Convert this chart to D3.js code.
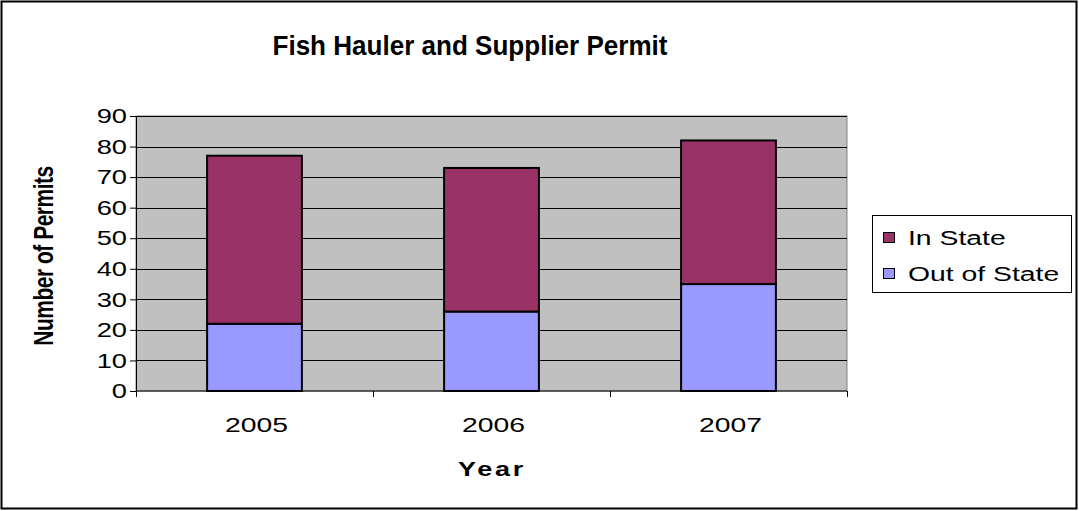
<html>
<head>
<script src="https://d3js.org/d3.v7.min.js"></script>
<style>
  body { margin: 0; background: #fff; }
  text { font-family: "Liberation Sans", Arial, sans-serif; fill: #000; }
</style>
</head>
<body>
<svg width="1079" height="511"></svg>
<script>
var years = ["2005", "2006", "2007"];
var outOfState = [22, 26, 35];
var inState = [55, 47, 47];
var seriesNames = ["In State", "Out of State"];
var yTicks = [0, 10, 20, 30, 40, 50, 60, 70, 80, 90];

var svg = d3.select("svg");
var pLeft = 136, pRight = 847, pTop = 116, pBottom = 391;
var sx = 1.35; // the original chart is stretched sideways

// outer frame
svg.append("rect").attr("x", 1.5).attr("y", 1.5).attr("width", 1075).attr("height", 507)
   .attr("fill", "#fff").attr("stroke", "#000").attr("stroke-width", 2);

var x = d3.scaleBand().domain(years).range([pLeft, pRight]).paddingInner(0.6).paddingOuter(0.3);
var y = d3.scaleLinear().domain([0, 90]).range([pBottom, pTop]);

// plot area
svg.append("rect").attr("x", pLeft).attr("y", pTop).attr("width", pRight - pLeft).attr("height", pBottom - pTop)
   .attr("fill", "#c0c0c0").attr("stroke", "#808080").attr("stroke-width", 1);

// gridlines
svg.append("g").selectAll("line").data(yTicks.slice(1)).enter().append("line")
   .attr("x1", pLeft).attr("x2", pRight)
   .attr("y1", function(d) { return Math.round(y(d)) + 0.5; })
   .attr("y2", function(d) { return Math.round(y(d)) + 0.5; })
   .attr("stroke", "#000").attr("stroke-width", 1);

// stacked bars
var rows = years.map(function(yr, i) { return { year: yr, "Out of State": outOfState[i], "In State": inState[i] }; });
var stack = d3.stack().keys(["Out of State", "In State"])(rows);
var colors = { "In State": "#993366", "Out of State": "#9999ff" };

svg.append("g").selectAll("g").data(stack).enter().append("g")
   .attr("fill", function(s) { return colors[s.key]; })
   .selectAll("rect").data(function(s) { return s; }).enter().append("rect")
   .attr("x", function(d) { return x(d.data.year); })
   .attr("y", function(d) { return y(d[1]); })
   .attr("width", x.bandwidth())
   .attr("height", function(d) { return y(d[0]) - y(d[1]); })
   .attr("stroke", "#000").attr("stroke-width", 2);

// y axis
var yAxis = svg.append("g").attr("transform", "translate(" + pLeft + ",0)")
   .call(d3.axisLeft(y).tickValues(yTicks).tickSize(6).tickPadding(0));
yAxis.select(".domain").attr("stroke", "#000");
yAxis.selectAll(".tick text").attr("font-size", 21).attr("fill", "#000")
   .attr("font-family", "Liberation Sans, Arial, sans-serif")
   .attr("x", null).attr("text-anchor", "end")
   .attr("transform", "translate(-9,0) scale(1.3,1)");

// x axis: ticks at category boundaries
var xg = svg.append("g").attr("transform", "translate(0," + pBottom + ")");
xg.append("line").attr("x1", pLeft).attr("x2", pRight).attr("stroke", "#000");
var step = x.step();
var bounds = [pLeft, pLeft + step, pLeft + 2 * step, pRight];
xg.selectAll("line.tk").data(bounds).enter().append("line").attr("class", "tk")
   .attr("x1", function(d) { return Math.round(d) + 0.5; })
   .attr("x2", function(d) { return Math.round(d) + 0.5; })
   .attr("y1", 0).attr("y2", 6).attr("stroke", "#000");
xg.selectAll("text").data(years).enter().append("text")
   .attr("transform", function(d) { return "translate(" + (x(d) + x.bandwidth() / 2 + 2) + ",41) scale(" + sx + ",1)"; })
   .attr("text-anchor", "middle").attr("font-size", 21)
   .text(function(d) { return d; });

// titles
svg.append("text").attr("transform", "translate(470,55) scale(0.965,1)").attr("text-anchor", "middle")
   .attr("font-size", 27).attr("font-weight", "bold").text("Fish Hauler and Supplier Permit");
svg.append("text").attr("transform", "translate(492,476) scale(" + sx + ",1)").attr("text-anchor", "middle")
   .attr("font-size", 20).attr("font-weight", "bold").attr("letter-spacing", 2).text("Year");
svg.append("text").attr("transform", "translate(53,256) rotate(-90) scale(1," + sx + ")").attr("text-anchor", "middle")
   .attr("font-size", 21).attr("font-weight", "bold").attr("letter-spacing", -0.5).text("Number of Permits");

// legend
var lg = svg.append("g");
lg.append("rect").attr("x", 872.5).attr("y", 215.5).attr("width", 199).attr("height", 77)
  .attr("fill", "#fff").attr("stroke", "#000");
seriesNames.forEach(function(n, i) {
  lg.append("rect").attr("x", 883.5).attr("y", 232.5 + i * 36).attr("width", 11).attr("height", 10)
    .attr("fill", colors[n]).attr("stroke", "#000");
  lg.append("text").attr("transform", "translate(908," + (245 + i * 36) + ") scale(" + sx + ",1)")
    .attr("font-size", 21).text(n);
});
</script>
</body>
</html>
